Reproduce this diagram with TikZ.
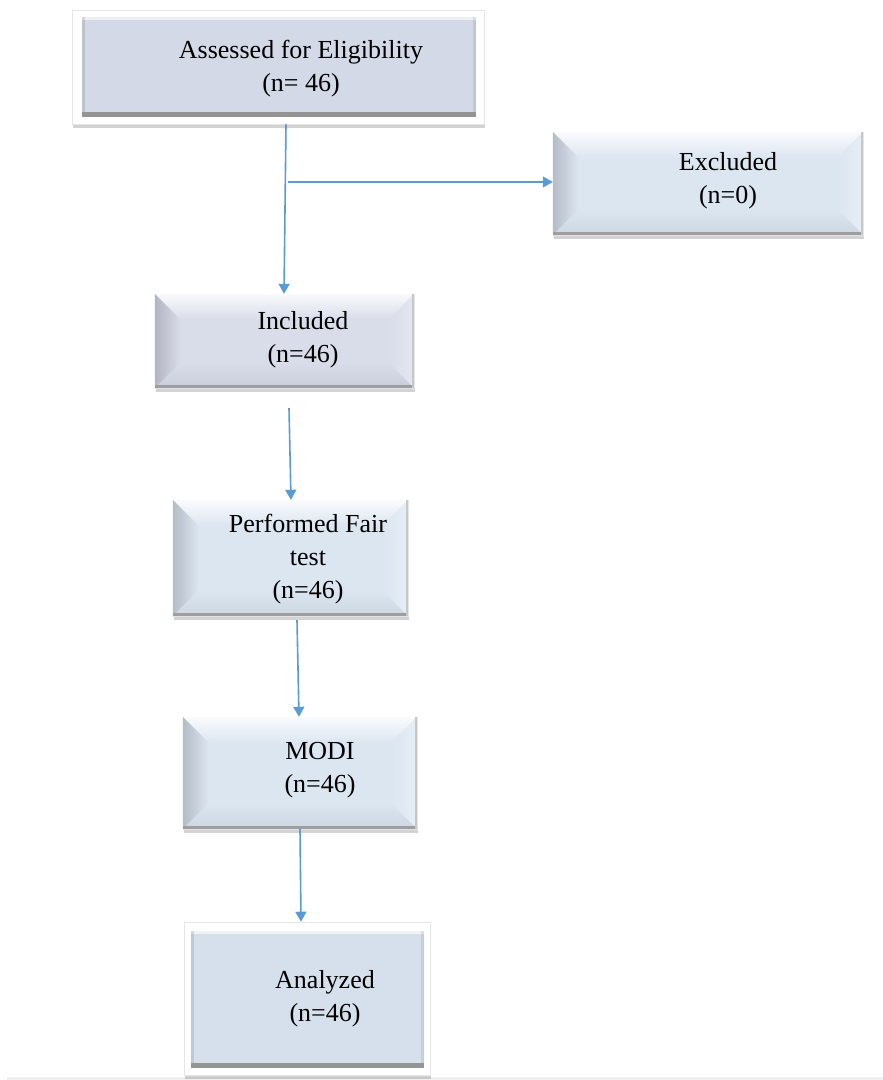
\documentclass[tikz,border=0pt]{standalone}
\usepackage{fontspec}
\setmainfont{Liberation Serif}
\usetikzlibrary{arrows.meta,shadows,calc}
\definecolor{arrowblue}{HTML}{5B9BD5}
\definecolor{lavface}{HTML}{D3D9E6}
\definecolor{incface}{HTML}{D9DDEA}
\definecolor{blueface}{HTML}{DCE6F1}
\definecolor{anaface}{HTML}{D6E0EC}
\tikzset{
  arr/.style={draw=arrowblue, line width=1.6pt, -{Triangle[width=11pt,length=10pt]}},
  txt/.style={align=center, font=\fontsize{26}{33}\selectfont, inner sep=0pt},
  softshadow/.style={drop shadow={shadow xshift=1pt, shadow yshift=-4pt, opacity=0.35, fill=black!50}},
  bevelbox/.style={rectangle, inner sep=0pt, fill=#1, draw=black!10, line width=0.4pt, softshadow},
  framebox/.style={rectangle, inner sep=0pt, fill=white, draw=black!10, line width=0.6pt, softshadow},
  innerbox/.style={rectangle, inner sep=0pt, fill=#1, draw=none},
}
\begin{document}
\begin{tikzpicture}[x=1pt, y=-1pt]
\useasboundingbox (0,0) rectangle (883,1080);
\fill[black!6] (7,1077) rectangle (883,1080);

% boxes
\node[framebox, minimum width=412pt, minimum height=114pt] (assf) at (278,67) {};
\node[innerbox=lavface, minimum width=394pt, minimum height=100pt] (ass) at (279,67) {};
\node[bevelbox=blueface, minimum width=310pt, minimum height=103pt] (exc) at (708,183.5) {};
\node[bevelbox=incface, minimum width=259pt, minimum height=94pt] (inc) at (284.5,341) {};
\node[bevelbox=blueface, minimum width=235pt, minimum height=116pt] (perf) at (290.5,558) {};
\node[bevelbox=blueface, minimum width=234pt, minimum height=112pt] (mod) at (300,773) {};
\node[framebox, minimum width=246pt, minimum height=153pt] (anaf) at (307,998.5) {};
\node[innerbox=anaface, minimum width=233pt, minimum height=137pt] (ana) at (307.5,999.5) {};

% edges of flat inner boxes
\foreach \n in {ass,ana} {
  \fill[white,opacity=0.6] (\n.north west) rectangle ([yshift=-3pt]\n.north east);
  \fill[black,opacity=0.10] (\n.north west) rectangle ([xshift=3pt]\n.south west);
  \fill[black,opacity=0.08] (\n.north east) rectangle ([xshift=-3pt]\n.south east);
  \fill[black!42] ([yshift=5pt]\n.south west) rectangle (\n.south east);
}

% bevel faces (soft shading)
\def\bw{26pt}
\foreach \n/\c in {exc/blueface,inc/incface,perf/blueface,mod/blueface} {
  \shade[top color=white!85!\c, bottom color=\c] (\n.north west) -- (\n.north east) -- ([xshift=-\bw,yshift=-\bw]\n.north east) -- ([xshift=\bw,yshift=-\bw]\n.north west) -- cycle;
  \shade[left color=\c!82!black, right color=\c] (\n.north west) -- ([xshift=\bw,yshift=-\bw]\n.north west) -- ([xshift=\bw,yshift=\bw]\n.south west) -- (\n.south west) -- cycle;
  \shade[left color=\c, right color=\c!70!white] (\n.north east) -- ([xshift=-\bw,yshift=-\bw]\n.north east) -- ([xshift=-\bw,yshift=\bw]\n.south east) -- (\n.south east) -- cycle;
  \shade[top color=\c, bottom color=\c!93!black] (\n.south west) -- ([xshift=\bw,yshift=\bw]\n.south west) -- ([xshift=-\bw,yshift=\bw]\n.south east) -- (\n.south east) -- cycle;
  \fill[black!38] ([yshift=3pt]\n.south west) rectangle (\n.south east);
  \fill[black!22] ([xshift=-2pt]\n.north east) rectangle (\n.south east);
}

% texts
\node[txt] (tass) at (301,69) {Assessed for Eligibility\\(n= 46)};
\node[txt] (texc) at (728,181) {Excluded\\(n=0)};
\node[txt] (tinc) at (303,340) {Included\\(n=46)};
\node[txt] (tperf) at (308,559) {Performed Fair\\test\\(n=46)};
\node[txt] (tmod) at (320,770) {MODI\\(n=46)};
\node[txt] (tana) at (325,999) {Analyzed\\(n=46)};

% connectors
\coordinate (br) at (288,182);
\draw[arr] ([xshift=8pt]assf.south) -- ([xshift=-0.5pt]inc.north);
\draw[arr] (br) -- (br -| exc.west);
\draw[arr] ([xshift=4.5pt,yshift=-20pt]inc.south) -- ([xshift=0.5pt]perf.north);
\draw[arr] ([xshift=6.5pt,yshift=-4pt]perf.south) -- ([xshift=-1pt]mod.north);
\draw[arr] (mod.south) -- ([xshift=-6pt]anaf.north);
\end{tikzpicture}
\end{document}
